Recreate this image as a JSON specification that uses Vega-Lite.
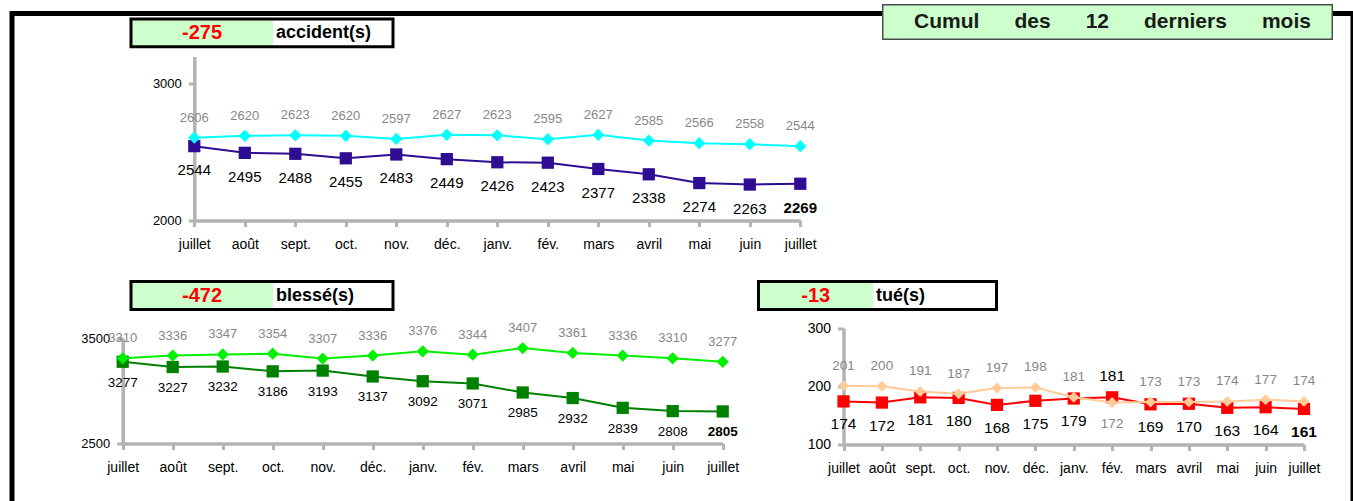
{
  "$schema": "https://vega.github.io/schema/vega-lite/v6.json",
  "background": "#ffffff",
  "autosize": {"type": "none"},
  "padding": {"left": 12, "top": 13.5, "right": 0, "bottom": 0},
  "width": 1341,
  "height": 487.5,
  "view": {"stroke": "#000000", "strokeWidth": 5, "strokeDash": [1828.5, 1341, 487.5, 0], "strokeCap": "square"},
  "datasets": {
    "accidents": [
      {"date": "2009-07-15", "actuel": 2544, "precedent": 2606},
      {"date": "2009-08-15", "actuel": 2495, "precedent": 2620},
      {"date": "2009-09-15", "actuel": 2488, "precedent": 2623},
      {"date": "2009-10-15", "actuel": 2455, "precedent": 2620},
      {"date": "2009-11-15", "actuel": 2483, "precedent": 2597},
      {"date": "2009-12-15", "actuel": 2449, "precedent": 2627},
      {"date": "2010-01-15", "actuel": 2426, "precedent": 2623},
      {"date": "2010-02-15", "actuel": 2423, "precedent": 2595},
      {"date": "2010-03-15", "actuel": 2377, "precedent": 2627},
      {"date": "2010-04-15", "actuel": 2338, "precedent": 2585},
      {"date": "2010-05-15", "actuel": 2274, "precedent": 2566},
      {"date": "2010-06-15", "actuel": 2263, "precedent": 2558},
      {"date": "2010-07-15", "actuel": 2269, "precedent": 2544}
    ],
    "blesses": [
      {"date": "2009-07-15", "actuel": 3277, "precedent": 3310},
      {"date": "2009-08-15", "actuel": 3227, "precedent": 3336},
      {"date": "2009-09-15", "actuel": 3232, "precedent": 3347},
      {"date": "2009-10-15", "actuel": 3186, "precedent": 3354},
      {"date": "2009-11-15", "actuel": 3193, "precedent": 3307},
      {"date": "2009-12-15", "actuel": 3137, "precedent": 3336},
      {"date": "2010-01-15", "actuel": 3092, "precedent": 3376},
      {"date": "2010-02-15", "actuel": 3071, "precedent": 3344},
      {"date": "2010-03-15", "actuel": 2985, "precedent": 3407},
      {"date": "2010-04-15", "actuel": 2932, "precedent": 3361},
      {"date": "2010-05-15", "actuel": 2839, "precedent": 3336},
      {"date": "2010-06-15", "actuel": 2808, "precedent": 3310},
      {"date": "2010-07-15", "actuel": 2805, "precedent": 3277}
    ],
    "tues": [
      {"date": "2009-07-15", "actuel": 174, "precedent": 201},
      {"date": "2009-08-15", "actuel": 172, "precedent": 200},
      {"date": "2009-09-15", "actuel": 181, "precedent": 191},
      {"date": "2009-10-15", "actuel": 180, "precedent": 187},
      {"date": "2009-11-15", "actuel": 168, "precedent": 197},
      {"date": "2009-12-15", "actuel": 175, "precedent": 198},
      {"date": "2010-01-15", "actuel": 179, "precedent": 181},
      {"date": "2010-02-15", "actuel": 181, "precedent": 172},
      {"date": "2010-03-15", "actuel": 169, "precedent": 173},
      {"date": "2010-04-15", "actuel": 170, "precedent": 173},
      {"date": "2010-05-15", "actuel": 163, "precedent": 174},
      {"date": "2010-06-15", "actuel": 164, "precedent": 177},
      {"date": "2010-07-15", "actuel": 161, "precedent": 174}
    ]
  },
  "resolve": {"scale": {"x": "independent", "y": "independent"}},
  "layer": [
    {
      "data": {"values": [{"titre": "Cumul des 12 derniers mois"}]},
      "encoding": {
        "x": {"field": "titre", "type": "nominal", "scale": {"range": [870.75, 1320.25], "paddingInner": 0, "paddingOuter": 0}, "axis": null},
        "y": {"field": "titre", "type": "nominal", "scale": {"range": [-8.75, 25.75], "paddingInner": 0, "paddingOuter": 0}, "axis": null}
      },
      "layer": [
        {"mark": {"type": "rect", "fill": "#CCFFCC", "stroke": "#4D4D4D", "strokeWidth": 1.5}},
        {"mark": {"type": "text", "text": "Cumul\u00a0\u00a0\u00a0\u00a0\u00a0\u00a0des\u00a0\u00a0\u00a0\u00a0\u00a0\u00a012\u00a0\u00a0\u00a0\u00a0\u00a0\u00a0derniers\u00a0\u00a0\u00a0\u00a0\u00a0\u00a0mois", "fontSize": 21, "fontWeight": "bold", "color": "#1A1A1A", "dx": 5}}
      ]
    },
    {
      "data": {"values": [{"variation": -275, "libelle": "accident(s)"}]},
      "resolve": {"scale": {"x": "independent"}},
      "encoding": {"y": {"field": "libelle", "type": "nominal", "scale": {"range": [5.5, 33.2], "paddingInner": 0, "paddingOuter": 0}, "axis": null}},
      "layer": [
        {
          "encoding": {"x": {"field": "libelle", "type": "nominal", "scale": {"range": [119, 261], "paddingInner": 0, "paddingOuter": 0}, "axis": null}},
          "layer": [
            {"mark": {"type": "rect", "color": "#CCFFCC"}},
            {"mark": {"type": "text", "color": "#FF0000", "fontSize": 20, "fontWeight": "bold"}, "encoding": {"text": {"field": "variation", "type": "quantitative", "format": "d"}}},
            {"mark": {"type": "text", "color": "#000000", "fontSize": 18, "fontWeight": "bold", "align": "left", "dx": 3}, "encoding": {"x": {"field": "libelle", "type": "nominal", "bandPosition": 1, "scale": {"range": [119, 261], "paddingInner": 0, "paddingOuter": 0}, "axis": null}, "text": {"field": "libelle", "type": "nominal"}}}
          ]
        },
        {"mark": {"type": "rect", "fill": "transparent", "stroke": "#000000", "strokeWidth": 3}, "encoding": {"x": {"field": "libelle", "type": "nominal", "scale": {"range": [119, 381], "paddingInner": 0, "paddingOuter": 0}, "axis": null}}}
      ]
    },
    {
      "data": {"values": [{"variation": -472, "libelle": "blessé(s)"}]},
      "resolve": {"scale": {"x": "independent"}},
      "encoding": {"y": {"field": "libelle", "type": "nominal", "scale": {"range": [268, 296], "paddingInner": 0, "paddingOuter": 0}, "axis": null}},
      "layer": [
        {
          "encoding": {"x": {"field": "libelle", "type": "nominal", "scale": {"range": [119, 261], "paddingInner": 0, "paddingOuter": 0}, "axis": null}},
          "layer": [
            {"mark": {"type": "rect", "color": "#CCFFCC"}},
            {"mark": {"type": "text", "color": "#FF0000", "fontSize": 20, "fontWeight": "bold"}, "encoding": {"text": {"field": "variation", "type": "quantitative", "format": "d"}}},
            {"mark": {"type": "text", "color": "#000000", "fontSize": 18, "fontWeight": "bold", "align": "left", "dx": 3}, "encoding": {"x": {"field": "libelle", "type": "nominal", "bandPosition": 1, "scale": {"range": [119, 261], "paddingInner": 0, "paddingOuter": 0}, "axis": null}, "text": {"field": "libelle", "type": "nominal"}}}
          ]
        },
        {"mark": {"type": "rect", "fill": "transparent", "stroke": "#000000", "strokeWidth": 3}, "encoding": {"x": {"field": "libelle", "type": "nominal", "scale": {"range": [119, 381], "paddingInner": 0, "paddingOuter": 0}, "axis": null}}}
      ]
    },
    {
      "data": {"values": [{"variation": -13, "libelle": "tué(s)"}]},
      "resolve": {"scale": {"x": "independent"}},
      "encoding": {"y": {"field": "libelle", "type": "nominal", "scale": {"range": [268, 296], "paddingInner": 0, "paddingOuter": 0}, "axis": null}},
      "layer": [
        {
          "encoding": {"x": {"field": "libelle", "type": "nominal", "scale": {"range": [746.5, 861], "paddingInner": 0, "paddingOuter": 0}, "axis": null}},
          "layer": [
            {"mark": {"type": "rect", "color": "#CCFFCC"}},
            {"mark": {"type": "text", "color": "#FF0000", "fontSize": 20, "fontWeight": "bold"}, "encoding": {"text": {"field": "variation", "type": "quantitative", "format": "d"}}},
            {"mark": {"type": "text", "color": "#000000", "fontSize": 18, "fontWeight": "bold", "align": "left", "dx": 3}, "encoding": {"x": {"field": "libelle", "type": "nominal", "bandPosition": 1, "scale": {"range": [746.5, 861], "paddingInner": 0, "paddingOuter": 0}, "axis": null}, "text": {"field": "libelle", "type": "nominal"}}}
          ]
        },
        {"mark": {"type": "rect", "fill": "transparent", "stroke": "#000000", "strokeWidth": 3}, "encoding": {"x": {"field": "libelle", "type": "nominal", "scale": {"range": [746.5, 984.5], "paddingInner": 0, "paddingOuter": 0}, "axis": null}}}
      ]
    },
    {
      "data": {"name": "accidents"},
      "encoding": {"x": {"field": "date", "timeUnit": "yearmonth", "type": "ordinal", "scale": {"type": "point", "padding": 0, "range": [182.3, 788.3]}, "axis": {"format": "%b", "formatType": "time", "title": null, "labelAngle": 0, "orient": "bottom", "offset": -280.5}}},
      "layer": [
        {"mark": {"type": "line", "color": "#2E0D92", "strokeWidth": 2, "point": {"shape": "square", "size": 150, "filled": true, "color": "#2E0D92", "opacity": 1}},
         "encoding": {"y": {"field": "actuel", "type": "quantitative", "scale": {"domain": [2000, 3200], "range": [207, 43], "nice": false, "zero": false}, "axis": {"values": [2000, 3000], "format": "d", "title": null, "orient": "left", "offset": -182.3, "labelFlush": false}}}},
        {"mark": {"type": "line", "color": "#00FFFF", "strokeWidth": 2, "point": {"shape": "diamond", "size": 150, "filled": true, "color": "#00FFFF", "opacity": 1}},
         "encoding": {"y": {"field": "precedent", "type": "quantitative", "scale": {"domain": [2000, 3200], "range": [207, 43], "nice": false, "zero": false}, "axis": {"values": [2000, 3000], "format": "d", "title": null, "orient": "left", "offset": -182.3, "labelFlush": false}}}},
        {"transform": [{"filter": "datum.precedent >= datum.actuel"}],
         "mark": {"type": "text", "color": "#878787", "fontSize": 13, "dy": -20},
         "encoding": {"y": {"field": "precedent", "type": "quantitative", "scale": {"domain": [2000, 3200], "range": [207, 43], "nice": false, "zero": false}, "axis": {"values": [2000, 3000], "format": "d", "title": null, "orient": "left", "offset": -182.3, "labelFlush": false}}, "text": {"field": "precedent", "type": "quantitative", "format": "d"}}},
        {"transform": [{"filter": {"not": {"field": "date", "timeUnit": "yearmonth", "equal": {"year": 2010, "month": 7}}}}, {"filter": "datum.actuel < datum.precedent"}],
         "mark": {"type": "text", "color": "#000000", "fontSize": 15, "dy": 24},
         "encoding": {"y": {"field": "actuel", "type": "quantitative", "scale": {"domain": [2000, 3200], "range": [207, 43], "nice": false, "zero": false}, "axis": {"values": [2000, 3000], "format": "d", "title": null, "orient": "left", "offset": -182.3, "labelFlush": false}}, "text": {"field": "actuel", "type": "quantitative", "format": "d"}}},
        {"transform": [{"filter": {"field": "date", "timeUnit": "yearmonth", "equal": {"year": 2010, "month": 7}}}],
         "mark": {"type": "text", "color": "#000000", "fontSize": 15, "fontWeight": "bold", "dy": 24},
         "encoding": {"y": {"field": "actuel", "type": "quantitative", "scale": {"domain": [2000, 3200], "range": [207, 43], "nice": false, "zero": false}, "axis": {"values": [2000, 3000], "format": "d", "title": null, "orient": "left", "offset": -182.3, "labelFlush": false}}, "text": {"field": "actuel", "type": "quantitative", "format": "d"}}}
      ]
    },
    {
      "data": {"name": "blesses"},
      "encoding": {"x": {"field": "date", "timeUnit": "yearmonth", "type": "ordinal", "scale": {"type": "point", "padding": 0, "range": [110.7, 710.7]}, "axis": {"format": "%b", "formatType": "time", "title": null, "labelAngle": 0, "orient": "bottom", "offset": -57.5}}},
      "layer": [
        {"mark": {"type": "line", "color": "#008000", "strokeWidth": 2, "point": {"shape": "square", "size": 150, "filled": true, "color": "#008000", "opacity": 1}},
         "encoding": {"y": {"field": "actuel", "type": "quantitative", "scale": {"domain": [2500, 3500], "range": [430, 324.8], "nice": false, "zero": false}, "axis": {"values": [2500, 3500], "format": "d", "title": null, "orient": "left", "offset": -110.7, "labelFlush": false}}}},
        {"mark": {"type": "line", "color": "#00F000", "strokeWidth": 2, "point": {"shape": "diamond", "size": 150, "filled": true, "color": "#00F000", "opacity": 1}},
         "encoding": {"y": {"field": "precedent", "type": "quantitative", "scale": {"domain": [2500, 3500], "range": [430, 324.8], "nice": false, "zero": false}, "axis": {"values": [2500, 3500], "format": "d", "title": null, "orient": "left", "offset": -110.7, "labelFlush": false}}}},
        {"transform": [{"filter": "datum.precedent >= datum.actuel"}],
         "mark": {"type": "text", "color": "#878787", "fontSize": 13, "dy": -20},
         "encoding": {"y": {"field": "precedent", "type": "quantitative", "scale": {"domain": [2500, 3500], "range": [430, 324.8], "nice": false, "zero": false}, "axis": {"values": [2500, 3500], "format": "d", "title": null, "orient": "left", "offset": -110.7, "labelFlush": false}}, "text": {"field": "precedent", "type": "quantitative", "format": "d"}}},
        {"transform": [{"filter": {"not": {"field": "date", "timeUnit": "yearmonth", "equal": {"year": 2010, "month": 7}}}}, {"filter": "datum.actuel < datum.precedent"}],
         "mark": {"type": "text", "color": "#000000", "fontSize": 13.5, "dy": 21},
         "encoding": {"y": {"field": "actuel", "type": "quantitative", "scale": {"domain": [2500, 3500], "range": [430, 324.8], "nice": false, "zero": false}, "axis": {"values": [2500, 3500], "format": "d", "title": null, "orient": "left", "offset": -110.7, "labelFlush": false}}, "text": {"field": "actuel", "type": "quantitative", "format": "d"}}},
        {"transform": [{"filter": {"field": "date", "timeUnit": "yearmonth", "equal": {"year": 2010, "month": 7}}}],
         "mark": {"type": "text", "color": "#000000", "fontSize": 13.5, "fontWeight": "bold", "dy": 21},
         "encoding": {"y": {"field": "actuel", "type": "quantitative", "scale": {"domain": [2500, 3500], "range": [430, 324.8], "nice": false, "zero": false}, "axis": {"values": [2500, 3500], "format": "d", "title": null, "orient": "left", "offset": -110.7, "labelFlush": false}}, "text": {"field": "actuel", "type": "quantitative", "format": "d"}}}
      ]
    },
    {
      "data": {"name": "tues"},
      "encoding": {"x": {"field": "date", "timeUnit": "yearmonth", "type": "ordinal", "scale": {"type": "point", "padding": 0, "range": [831.5, 1292]}, "axis": {"format": "%b", "formatType": "time", "title": null, "labelAngle": 0, "orient": "bottom", "offset": -56.5}}},
      "layer": [
        {"mark": {"type": "line", "color": "#FF0000", "strokeWidth": 2, "point": {"shape": "square", "size": 150, "filled": true, "color": "#FF0000", "opacity": 1}},
         "encoding": {"y": {"field": "actuel", "type": "quantitative", "scale": {"domain": [100, 300], "range": [431, 314.5], "nice": false, "zero": false}, "axis": {"values": [100, 200, 300], "format": "d", "title": null, "orient": "left", "offset": -831.5, "labelFontSize": 14, "labelFlush": false}}}},
        {"mark": {"type": "line", "color": "#FFCC99", "strokeWidth": 2, "point": {"shape": "diamond", "size": 120, "filled": true, "color": "#FFCC99", "opacity": 1}},
         "encoding": {"y": {"field": "precedent", "type": "quantitative", "scale": {"domain": [100, 300], "range": [431, 314.5], "nice": false, "zero": false}, "axis": {"values": [100, 200, 300], "format": "d", "title": null, "orient": "left", "offset": -831.5, "labelFontSize": 14, "labelFlush": false}}}},
        {"transform": [{"filter": "datum.precedent >= datum.actuel"}],
         "mark": {"type": "text", "color": "#878787", "fontSize": 13.5, "dy": -20},
         "encoding": {"y": {"field": "precedent", "type": "quantitative", "scale": {"domain": [100, 300], "range": [431, 314.5], "nice": false, "zero": false}, "axis": {"values": [100, 200, 300], "format": "d", "title": null, "orient": "left", "offset": -831.5, "labelFontSize": 14, "labelFlush": false}}, "text": {"field": "precedent", "type": "quantitative", "format": "d"}}},
        {"transform": [{"filter": "datum.precedent < datum.actuel"}],
         "mark": {"type": "text", "color": "#878787", "fontSize": 13.5, "dy": 21},
         "encoding": {"y": {"field": "precedent", "type": "quantitative", "scale": {"domain": [100, 300], "range": [431, 314.5], "nice": false, "zero": false}, "axis": {"values": [100, 200, 300], "format": "d", "title": null, "orient": "left", "offset": -831.5, "labelFontSize": 14, "labelFlush": false}}, "text": {"field": "precedent", "type": "quantitative", "format": "d"}}},
        {"transform": [{"filter": {"not": {"field": "date", "timeUnit": "yearmonth", "equal": {"year": 2010, "month": 7}}}}, {"filter": "datum.actuel < datum.precedent"}],
         "mark": {"type": "text", "color": "#000000", "fontSize": 15.5, "dy": 23},
         "encoding": {"y": {"field": "actuel", "type": "quantitative", "scale": {"domain": [100, 300], "range": [431, 314.5], "nice": false, "zero": false}, "axis": {"values": [100, 200, 300], "format": "d", "title": null, "orient": "left", "offset": -831.5, "labelFontSize": 14, "labelFlush": false}}, "text": {"field": "actuel", "type": "quantitative", "format": "d"}}},
        {"transform": [{"filter": "datum.actuel >= datum.precedent"}],
         "mark": {"type": "text", "color": "#000000", "fontSize": 15.5, "dy": -21},
         "encoding": {"y": {"field": "actuel", "type": "quantitative", "scale": {"domain": [100, 300], "range": [431, 314.5], "nice": false, "zero": false}, "axis": {"values": [100, 200, 300], "format": "d", "title": null, "orient": "left", "offset": -831.5, "labelFontSize": 14, "labelFlush": false}}, "text": {"field": "actuel", "type": "quantitative", "format": "d"}}},
        {"transform": [{"filter": {"field": "date", "timeUnit": "yearmonth", "equal": {"year": 2010, "month": 7}}}],
         "mark": {"type": "text", "color": "#000000", "fontSize": 15.5, "fontWeight": "bold", "dy": 23},
         "encoding": {"y": {"field": "actuel", "type": "quantitative", "scale": {"domain": [100, 300], "range": [431, 314.5], "nice": false, "zero": false}, "axis": {"values": [100, 200, 300], "format": "d", "title": null, "orient": "left", "offset": -831.5, "labelFontSize": 14, "labelFlush": false}}, "text": {"field": "actuel", "type": "quantitative", "format": "d"}}}
      ]
    }
  ],
  "config": {
    "font": "Liberation Sans",
    "locale": {
      "number": {"decimal": ",", "thousands": "\u00a0", "grouping": [3], "currency": ["", "\u00a0€"], "minus": "-"},
      "time": {
        "dateTime": "%A %e %B %Y à %X",
        "date": "%d/%m/%Y",
        "time": "%H:%M:%S",
        "periods": ["AM", "PM"],
        "days": ["dimanche", "lundi", "mardi", "mercredi", "jeudi", "vendredi", "samedi"],
        "shortDays": ["dim.", "lun.", "mar.", "mer.", "jeu.", "ven.", "sam."],
        "months": ["janvier", "février", "mars", "avril", "mai", "juin", "juillet", "août", "septembre", "octobre", "novembre", "décembre"],
        "shortMonths": ["janv.", "fév.", "mars", "avril", "mai", "juin", "juillet", "août", "sept.", "oct.", "nov.", "déc."]
      }
    },
    "axis": {
      "domainColor": "#B3B3B3", "domainWidth": 3.5,
      "tickColor": "#B3B3B3", "tickWidth": 3, "tickSize": 6,
      "labelColor": "#000000", "labelFont": "Liberation Sans", "grid": false
    },
    "axisX": {"labelFontSize": 14, "labelPadding": 11, "labelAngle": 0},
    "axisY": {"labelFontSize": 13, "labelPadding": 7},
    "text": {"font": "Liberation Sans"}
  }
}
